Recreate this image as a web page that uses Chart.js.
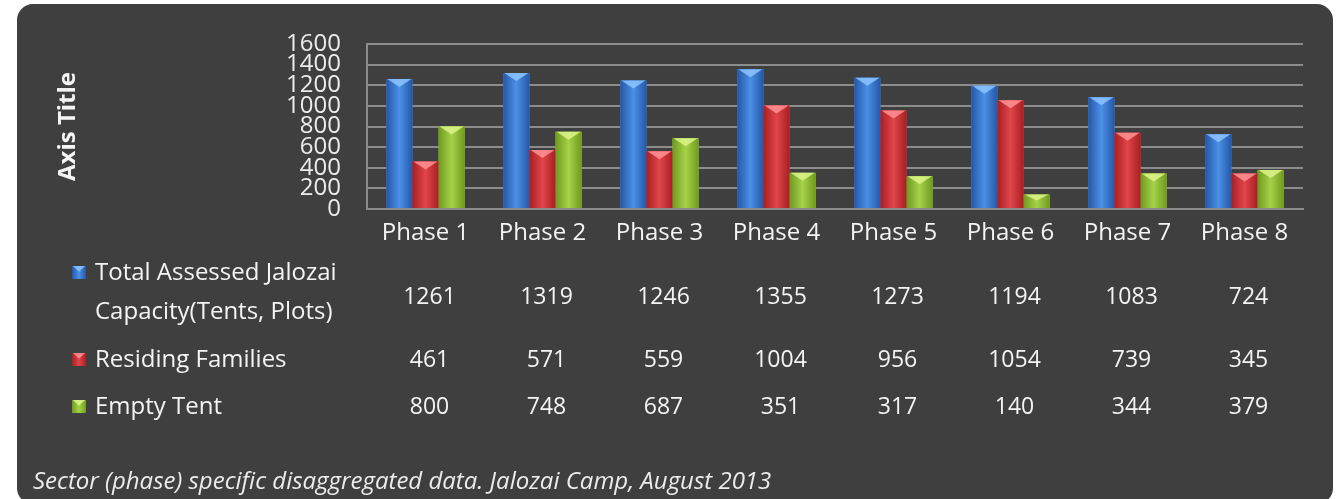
<!DOCTYPE html>
<html>
<head>
<meta charset="utf-8">
<script src="https://cdn.jsdelivr.net/npm/chart.js@4.4.1/dist/chart.umd.min.js"></script>
<style>
  html, body { margin: 0; padding: 0; background: #fff; }
  #wrap { width: 1342px; height: 499px; position: relative; }
</style>
</head>
<body>
<div id="wrap"><canvas id="barChart"></canvas></div>
<script>
const phases = ['Phase 1', 'Phase 2', 'Phase 3', 'Phase 4', 'Phase 5', 'Phase 6', 'Phase 7', 'Phase 8'];
const capacity = [1261, 1319, 1246, 1355, 1273, 1194, 1083, 724];
const families = [461, 571, 559, 1004, 956, 1054, 739, 345];
const emptyTent = [800, 748, 687, 351, 317, 140, 344, 379];
const yTicks = [0, 200, 400, 600, 800, 1000, 1200, 1400, 1600];
const caption = 'Sector (phase) specific disaggregated data. Jalozai Camp, August 2013';

// colours for each series: edge, middle, bevel
const tones = [
  { edge: '#2657a8', mid: '#4a90e6', top: '#8cc4ff' },
  { edge: '#a81f22', mid: '#e0454a', top: '#ff9294' },
  { edge: '#6f9a1e', mid: '#a6d24a', top: '#dcf58a' }
];

// table rows shown under the chart
const tableRows = [
  { label: ['Total Assessed Jalozai', 'Capacity(Tents, Plots)'], values: capacity, y: 297 },
  { label: ['Residing Families'], values: families, y: 360 },
  { label: ['Empty Tent'], values: emptyTent, y: 407 }
];

function drawMarker(ctx, x, y, w, h, t) {
  const g = ctx.createLinearGradient(x, 0, x + w, 0);
  g.addColorStop(0, t.edge); g.addColorStop(0.5, t.mid); g.addColorStop(1, t.edge);
  ctx.fillStyle = g;
  ctx.fillRect(x, y, w, h);
  ctx.fillStyle = t.top;
  ctx.globalAlpha = 0.85;
  ctx.beginPath();
  ctx.moveTo(x + 1, y); ctx.lineTo(x + w - 1, y); ctx.lineTo(x + w / 2, y + Math.min(h * 0.45, 8));
  ctx.closePath(); ctx.fill();
  ctx.globalAlpha = 1;
}

const panelPlugin = {
  id: 'panel',
  beforeDraw(chart) {
    const c = chart.ctx;
    c.save();
    c.fillStyle = '#ffffff';
    c.fillRect(0, 0, chart.width, chart.height);
    c.fillStyle = '#3f3f3f';
    c.beginPath();
    c.roundRect(17, 4, 1316, 500, 16);
    c.fill();
    c.restore();
  },
  afterDatasetsDraw(chart) {
    const c = chart.ctx;
    c.save();
    chart.data.datasets.forEach((ds, i) => {
      chart.getDatasetMeta(i).data.forEach(bar => {
        const w = bar.width, x = bar.x - w / 2, top = bar.y, h = bar.base - bar.y;
        drawMarker(c, x, top, w, h, tones[i]);
      });
    });
    c.restore();
  },
  afterDraw(chart) {
    const c = chart.ctx;
    const xs = chart.scales.x;
    c.save();
    c.textBaseline = 'middle';
    tableRows.forEach((row, i) => {
      const n = row.label.length;
      const y0 = n > 1 ? row.y - 24 : row.y;
      drawMarker(c, 72, y0 - 7, 14, 13, tones[i]);
      c.fillStyle = '#f4f4f4';
      c.textAlign = 'left';
      c.font = '24px "Open Sans"';
      row.label.forEach((s, k) => c.fillText(s, 95, y0 + k * 39));
      c.textAlign = 'center';
      c.font = '23px "Open Sans"';
      row.values.forEach((v, j) => c.fillText(String(v), xs.getPixelForValue(j) + 4, row.y));
    });
    c.font = 'italic 24px "Open Sans"';
    c.textAlign = 'left';
    c.fillStyle = '#ececec';
    c.fillText(caption, 33, 482);
    c.restore();
  }
};

new Chart(document.getElementById('barChart'), {
  type: 'bar',
  data: {
    labels: phases,
    datasets: [
      { label: 'Total Assessed Jalozai Capacity(Tents, Plots)', data: capacity, backgroundColor: tones[0].mid },
      { label: 'Residing Families', data: families, backgroundColor: tones[1].mid },
      { label: 'Empty Tent', data: emptyTent, backgroundColor: tones[2].mid }
    ]
  },
  plugins: [panelPlugin],
  options: {
    responsive: true,
    maintainAspectRatio: false,
    animation: false,
    layout: { padding: { left: 54, right: 39, top: 44, bottom: 252 } },
    datasets: { bar: { categoryPercentage: 0.67, barPercentage: 1 } },
    plugins: {
      legend: { display: false },
      tooltip: { enabled: false }
    },
    scales: {
      x: {
        grid: { display: false },
        border: { color: '#8c8c8c', width: 2 },
        ticks: { color: '#f4f4f4', font: { family: 'Open Sans', size: 24 }, padding: 2 },
        afterFit(s) { s.height = 38; }
      },
      y: {
        min: 0, max: 1600,
        afterBuildTicks(s) { s.ticks = yTicks.map(v => ({ value: v })); },
        afterFit(s) { s.width = 313; },
        grid: { color: '#8c8c8c', lineWidth: 2, drawTicks: false },
        border: { color: '#8c8c8c', width: 2 },
        ticks: { color: '#ececec', font: { family: 'Open Sans', size: 24 }, padding: 26, autoSkip: false,
                 callback: v => String(v) },
        title: { display: true, text: 'Axis Title', color: '#f4f4f4', font: { family: 'Open Sans', size: 24, weight: 'bold' }, padding: 0 }
      }
    }
  }
});
</script>
</body>
</html>
